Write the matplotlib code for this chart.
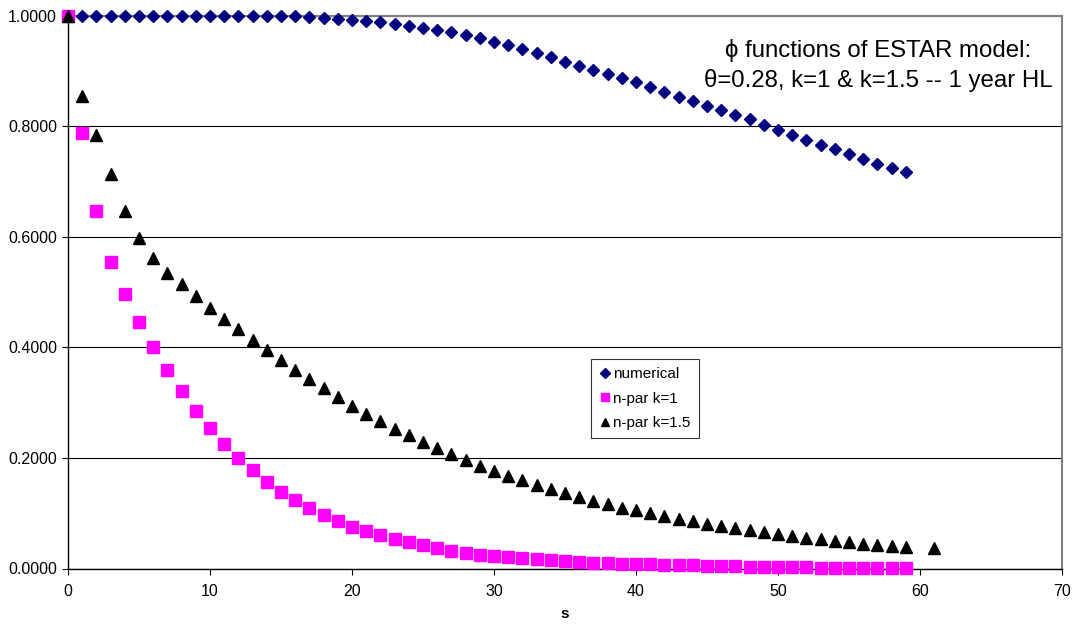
import numpy as np
import matplotlib
matplotlib.use("Agg")
import matplotlib.pyplot as plt

plt.rcParams['font.family'] = ['Liberation Sans', 'DejaVu Sans']

# valori
s_numerical = list(range(0, 60))
numerical = [1.0, 1.0, 1.0, 1.0, 1.0, 1.0, 1.0, 1.0, 1.0, 1.0,
             1.0, 1.0, 1.0, 1.0, 1.0, 0.9998, 0.9995, 0.9979, 0.9961, 0.9943,
             0.9913, 0.9901, 0.9877, 0.9852, 0.9816, 0.9780, 0.9732, 0.9695, 0.9641, 0.9587,
             0.9521, 0.9460, 0.9388, 0.9327, 0.9249, 0.9165, 0.9092, 0.9014, 0.8942, 0.8863,
             0.8791, 0.8701, 0.8622, 0.8532, 0.8453, 0.8363, 0.8290, 0.8206, 0.8128, 0.8019,
             0.7923, 0.7838, 0.7742, 0.7663, 0.7579, 0.7495, 0.7404, 0.7320, 0.7241, 0.7163]

s_k1 = list(range(0, 60))
npar_k1 = [1.0, 0.7867, 0.6464, 0.5542, 0.4958, 0.4464, 0.4000, 0.3590, 0.3205, 0.2855,
           0.2536, 0.2253, 0.2000, 0.1777, 0.1572, 0.1392, 0.1235, 0.1096, 0.0970, 0.0861,
           0.0759, 0.0675, 0.0597, 0.0530, 0.0476, 0.0422, 0.0373, 0.0325, 0.0283, 0.0253,
           0.0222, 0.0199, 0.0181, 0.0163, 0.0145, 0.0132, 0.0120, 0.0108, 0.0096, 0.0090,
           0.0084, 0.0078, 0.0072, 0.0066, 0.0060, 0.0052, 0.0046, 0.0040, 0.0035, 0.0031,
           0.0027, 0.0024, 0.0021, 0.0018, 0.0016, 0.0014, 0.0012, 0.0011, 0.0009, 0.0008]

s_k15 = list(range(0, 60)) + [61]
npar_k15 = [1.0, 0.8540, 0.7837, 0.7133, 0.6470, 0.5970, 0.5608, 0.5349, 0.5139, 0.4928,
            0.4717, 0.4518, 0.4325, 0.4133, 0.3946, 0.3771, 0.3590, 0.3422, 0.3259, 0.3096,
            0.2946, 0.2801, 0.2663, 0.2530, 0.2410, 0.2289, 0.2175, 0.2066, 0.1958, 0.1862,
            0.1765, 0.1675, 0.1597, 0.1512, 0.1434, 0.1362, 0.1295, 0.1229, 0.1163, 0.1103,
            0.1049, 0.0995, 0.0946, 0.0897, 0.0855, 0.0813, 0.0771, 0.0729, 0.0693, 0.0657,
            0.0620, 0.0590, 0.0560, 0.0530, 0.0506, 0.0482, 0.0446, 0.0422, 0.0403, 0.0385,
            0.0367]

x_ticks = [0, 10, 20, 30, 40, 50, 60, 70]
y_ticks = [0.0, 0.2, 0.4, 0.6, 0.8, 1.0]

fig = plt.figure(figsize=(10.77, 6.29), dpi=100)
ax = fig.add_axes([68 / 1077, 1 - 568.5 / 629, 994 / 1077, 553 / 629])

ax.plot(s_numerical, numerical, linestyle='none', marker='D', markersize=6.5,
        color='#000080', label='numerical', clip_on=False, zorder=3)
ax.plot(s_k1, npar_k1, linestyle='none', marker='s', markersize=8,
        color='#FF00FF', label='n-par k=1', clip_on=False, zorder=4)
ax.plot(s_k15, npar_k15, linestyle='none', marker='^', markersize=8,
        color='black', label='n-par k=1.5', clip_on=False, zorder=5)

ax.set_xlim(0, 70)
ax.set_ylim(0, 1.0)
ax.set_xticks(x_ticks)
ax.set_yticks(y_ticks)
ax.set_yticklabels([f'{v:.4f}' for v in y_ticks])
ax.tick_params(axis='both', direction='out', length=4, width=0.8, labelsize=11.5)
ax.tick_params(axis='x', pad=7)
ax.tick_params(axis='y', pad=4)
ax.yaxis.grid(True, color='black', linewidth=0.8)
ax.set_axisbelow(True)

for side in ['top', 'right']:
    ax.spines[side].set_color('#808080')
    ax.spines[side].set_linewidth(1.5)
for side in ['left', 'bottom']:
    ax.spines[side].set_color('black')
    ax.spines[side].set_linewidth(1.0)

ax.set_xlabel('s', fontsize=11, fontweight='bold', labelpad=6)

# titolo dentro l'area del grafico
title_x = (878 - 68) / 994
ax.text(title_x, 0.9244, '\u03d5 functions of ESTAR model:', transform=ax.transAxes,
        ha='center', va='baseline', fontsize=17.3)
ax.text(title_x, 0.8702, '\u03b8=0.28, k=1 & k=1.5 -- 1 year HL', transform=ax.transAxes,
        ha='center', va='baseline', fontsize=17.3)

leg = ax.legend(loc='upper left', bbox_to_anchor=(0.526, 0.379), fontsize=11,
                frameon=True, fancybox=False, handlelength=0.7, handletextpad=0.2,
                borderpad=0.55, labelspacing=0.68, markerscale=0.8, borderaxespad=0)
leg.get_frame().set_edgecolor('black')
leg.get_frame().set_linewidth(0.8)

plt.savefig('out.png', dpi=100)
plt.close()
